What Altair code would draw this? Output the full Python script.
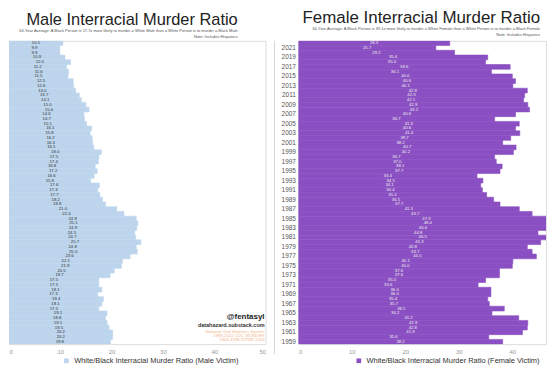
import altair as alt
import pandas as pd

years = list(range(2022, 1958, -1))
male = [10.5, 9.9, 9.9, 10.9, 12.0, 11.2, 11.6, 11.5, 12.5, 12.6,
        13.0, 13.7, 14.1, 15.0, 15.6, 14.6, 14.7, 15.1, 16.1, 15.8,
        16.2, 16.3, 16.5, 18.0, 17.5, 17.4, 16.8, 17.2, 16.6, 15.9,
        17.6, 17.3, 17.7, 18.2, 18.8, 21.0, 22.4, 24.8, 25.1, 24.9,
        24.5, 24.7, 25.7, 24.8, 25.0, 23.6, 22.1, 21.9, 20.5, 19.7,
        17.5, 17.5, 18.1, 17.3, 18.4, 18.1, 17.5, 19.1, 18.8, 19.1,
        19.5, 20.2, 20.2, 19.8]
female = [28.3, 25.7, 29.2, 35.4, 35.0, 39.6, 36.1, 40.0, 40.6, 40.1,
          42.8, 42.3, 42.1, 42.9, 43.2, 40.6, 36.7, 41.3, 40.6, 41.4,
          39.7, 38.2, 40.7, 40.2, 36.7, 37.0, 38.1, 37.7, 33.4, 34.5,
          34.1, 34.4, 35.2, 36.5, 37.7, 41.3, 43.7, 47.9, 48.4, 46.6,
          44.8, 46.5, 45.3, 42.8, 43.7, 44.5, 40.1, 40.0, 37.6, 37.6,
          35.0, 33.6, 36.0, 36.0, 35.4, 35.7, 38.5, 36.2, 41.2, 42.9,
          42.8, 41.9, 35.6, 38.2]
male_ticks = list(range(0, 55, 5))
female_ticks = list(range(0, 50, 5))
year_labels = [y for y in years if y % 2 == 1]

male_series = "White/Black Interracial Murder Ratio (Male Victim)"
female_series = "White/Black Interracial Murder Ratio (Female Victim)"

male_title = "Male Interracial Murder Ratio"
female_title = "Female Interracial Murder Ratio"
male_sub = ["64-Year Average: A Black Person is 17.7x more likely to murder a White Male than a White Person is to murder a Black Male",
            "Note: Includes Hispanics"]
female_sub = ["64-Year Average: A Black Person is 39.1x more likely to murder a White Female than a White Person is to murder a Black Female",
              "Note: Includes Hispanics"]

credit = ["@fentasyl", "datahazard.substack.com"]
sources = ["National Vital Statistics System", "1999-2022 CDC WONDER", "1968-1998 ICPSR 2059"]

FONT = "Liberation Sans"
H = 305

dm = pd.DataFrame({"year": years, "value": male, "series": male_series})
dm["half"] = dm["value"] / 2
dm["label"] = dm["value"].map(lambda v: f"{v:.1f}")
df = pd.DataFrame({"year": years, "value": female, "series": female_series})
df["half"] = df["value"] / 2
df["label"] = df["value"].map(lambda v: f"{v:.1f}")


def panel(data, width, domain, ticks, color, series, text_color, show_years, title, sub, dx, legend_x, fs):
    ysc = alt.Scale(paddingInner=0, paddingOuter=0)
    xsc = alt.Scale(domain=domain, nice=False)
    if show_years:
        yax = alt.Axis(values=year_labels, title=None, domain=False, ticks=False,
                       labelColor="#555", labelFontSize=6.5, labelPadding=3, labelFont=FONT)
    else:
        yax = None
    base = alt.Chart(data)
    bars = base.mark_bar(clip=True, stroke=color, strokeWidth=0.6).encode(
        y=alt.Y("year:O", sort="descending", scale=ysc, axis=yax),
        x=alt.X("value:Q", scale=xsc,
                axis=alt.Axis(values=ticks, title=None, grid=False, domain=False, ticks=False,
                              labelColor="#999", labelFontSize=6, labelPadding=4, labelFont=FONT)),
        color=alt.Color("series:N", scale=alt.Scale(domain=[series], range=[color]),
                        legend=alt.Legend(title=None, orient="none", legendX=legend_x, legendY=H + 13,
                                          symbolType="square", symbolSize=22, labelFontSize=7.5,
                                          labelLimit=400, labelColor="#333", labelFont=FONT,
                                          symbolStrokeWidth=0)),
    )
    labels = base.mark_text(fontSize=4.3, color=text_color, font=FONT).encode(
        y=alt.Y("year:O", sort="descending", scale=ysc),
        x=alt.X("half:Q", scale=xsc),
        text="label:N",
    )
    ch = alt.layer(bars, labels)
    return ch.properties(
        width=width, height=H,
        title=alt.TitleParams(text=title, subtitle=sub, anchor="end", frame="group", dx=dx,
                              fontSize=fs, font=FONT, fontWeight="normal", color="#222",
                              subtitleFont=FONT, subtitleFontSize=4, subtitleColor="#555",
                              subtitlePadding=0, offset=2),
    )


left = panel(dm, 258, [0, 50], male_ticks, "#bdd5ec", male_series, "#333", False,
             male_title, male_sub, -28, 54, 16.5)

one = pd.DataFrame({"k": [0]})
ann = []
ann.append(alt.Chart(one).mark_text(text=credit[0], align="right", fontSize=8, fontWeight="bold",
                                    color="#222", font=FONT).encode(x=alt.value(257), y=alt.value(278)))
ann.append(alt.Chart(one).mark_text(text=credit[1], align="right", fontSize=5.5, fontWeight="bold",
                                    color="#333", font=FONT).encode(x=alt.value(257), y=alt.value(286)))
for i, s in enumerate(sources):
    ann.append(alt.Chart(one).mark_text(text=s, align="right", fontSize=4.3, color="#f4b58a",
                                        font=FONT).encode(x=alt.value(257), y=alt.value(293 + 4 * i)))
left = alt.layer(left, *ann)

right = panel(df, 249, [0, 46.3], female_ticks, "#8a4fc2", female_series, "#eee", True,
              female_title, female_sub, -6, 57, 17)
divider = alt.Chart(one).mark_rule(color="#d6d6d6", strokeWidth=1).encode(
    x=alt.value(-24), y=alt.value(0), y2=alt.value(H + 10))
right = alt.layer(right, divider)

chart = alt.hconcat(left, right, spacing=7).resolve_scale(color="independent").resolve_legend(
    color="independent").properties(padding=0).configure_view(stroke=None).configure(background="white")

chart.save("out.html", embed_options={"renderer": "svg", "actions": False})
